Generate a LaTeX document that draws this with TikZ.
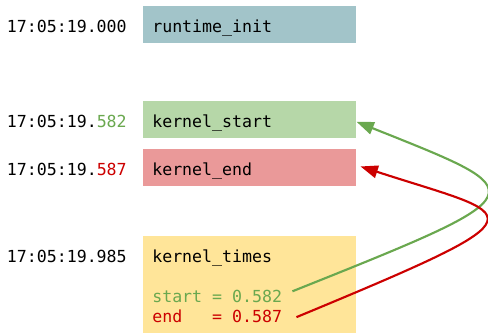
\documentclass[tikz,border=0pt]{standalone}
\usepackage{fontspec}
\setmonofont{DejaVu Sans Mono}
\usetikzlibrary{arrows.meta}
\definecolor{initlt}{HTML}{A2C4C9}
\definecolor{startlt}{HTML}{B6D7A8}
\definecolor{endlt}{HTML}{EA9999}
\definecolor{timeslt}{HTML}{FFE599}
\definecolor{good}{HTML}{6AA84F}
\definecolor{bad}{HTML}{CC0000}
\tikzset{
  evbox/.style={anchor=north west, minimum width=159.75pt, minimum height=27.75pt,
                text width=146.25pt, inner xsep=6.75pt, align=left,
                text height=11.25pt, text depth=0pt},
  stamp/.style={anchor=base east, inner sep=0pt},
  val/.style={anchor=base west, inner sep=0pt},
  argood/.style={-{Triangle[length=13pt,width=9.5pt]}, line width=1.6pt, draw=good},
  arbad/.style={-{Triangle[length=13pt,width=9.5pt]}, line width=1.6pt, draw=bad}
}

\begin{document}
\begin{tikzpicture}[x=0.75pt,y=-0.75pt,font=\fontsize{12.45pt}{15pt}\selectfont\ttfamily]
  \useasboundingbox (0,0) rectangle (488,333);

  \node[evbox, fill=initlt] (init) at (143,6) {runtime\_init};
  \node[stamp] (tinit) at (127,32) {17:05:19.000};

  \node[evbox, fill=startlt] (kstart) at (143,101) {kernel\_start};
  \node[stamp] (tstart) at (127,127) {17:05:19.\textcolor{good}{582}};

  \node[evbox, fill=endlt] (kend) at (143,149) {kernel\_end};
  \node[stamp] (tend) at (127,175) {17:05:19.\textcolor{bad}{587}};

  \node[evbox, fill=timeslt, minimum height=72.75pt] (ktimes) at (143,236) {};
  \node[stamp] (ttimes) at (127,262) {17:05:19.985};
  \node[val] (ktitle) at (152,262) {kernel\_times};
  \node[val, text=good] (vstart) at (152,302) {start~=~0.582};
  \node[val, text=bad] (vend) at (152,322) {end~~~=~0.587};

  \draw[argood] ([xshift=7.5pt,yshift=3.5pt]vstart.east) .. controls +(250,-100) and +(180,72) .. ([yshift=-1.5pt]kstart.east);
  \draw[arbad] ([xshift=10.5pt,yshift=-1pt]vend.east) .. controls +(258,-107) and +(160,52) .. ([xshift=3pt,yshift=1pt]kend.east);
\end{tikzpicture}
\end{document}
